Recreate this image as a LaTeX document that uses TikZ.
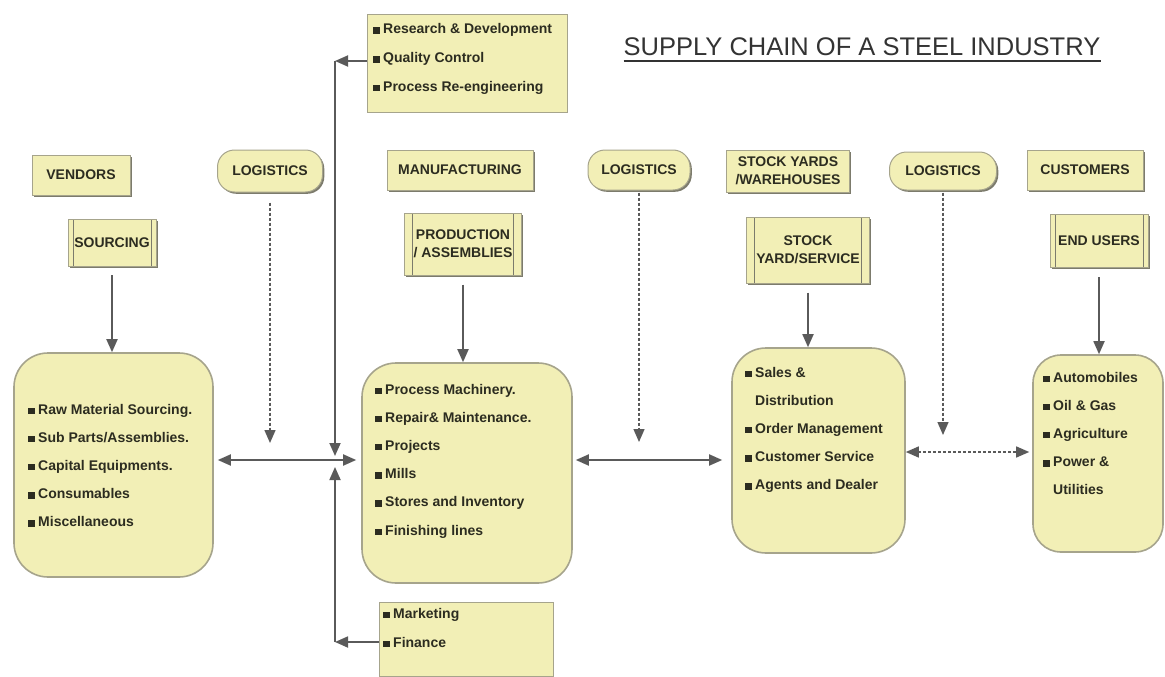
\documentclass[tikz,border=0pt]{standalone}
\usepackage{fontspec}
\setmainfont{Liberation Sans}
\usepackage{xcolor}
\usepackage{tikz}
\usetikzlibrary{arrows.meta, shadows}
\definecolor{BoxFill}  {HTML}{F2EFB6}
\definecolor{BoxLine}  {HTML}{A6A48C}
\definecolor{ShadowGry}{HTML}{7C7B6C}
\definecolor{ArrowGry} {HTML}{5A5A5A}
\definecolor{TextDk}   {HTML}{2C2C20}
\definecolor{TitleGry} {HTML}{333333}
\newcommand{\sqbul}{\rule{6.5pt}{6.5pt}\hspace{3.5pt}}
\newcommand{\sqind}{\hspace*{10pt}}

\begin{document}
\begin{tikzpicture}[
  x=1pt, y=-1pt,
  font=\fontsize{14}{18}\selectfont\bfseries,
  every node/.style={align=center, text=TextDk},
  lbl/.style    = {draw=BoxLine, fill=BoxFill, line width=1pt,
                   drop shadow={shadow xshift=1.8pt, shadow yshift=-1.8pt,
                                fill=ShadowGry, opacity=1}},
  logi/.style   = {lbl, rounded corners=17pt},
  procbox/.style= {lbl, path picture={
                     \draw[ShadowGry, line width=1pt]
                       ([xshift=#1]path picture bounding box.north west) --
                       ([xshift=#1]path picture bounding box.south west);
                     \draw[ShadowGry, line width=1pt]
                       ([xshift=-#1]path picture bounding box.north east) --
                       ([xshift=-#1]path picture bounding box.south east);}},
  procbox/.default=6pt,
  sheet/.style  = {draw=BoxLine, fill=BoxFill, line width=1pt,
                   drop shadow={shadow xshift=1pt, shadow yshift=-1pt,
                                fill=BoxLine, opacity=1}},
  bigbox/.style = {draw=BoxLine, fill=BoxFill, line width=1.6pt, rounded corners=34pt},
  item/.style   = {anchor=base west, inner sep=0pt, align=left},
  arr/.style    = {ArrowGry, line width=1.8pt, -{Triangle[length=13pt,width=11pt]}},
  arrs/.style   = {ArrowGry, line width=1.8pt,
                   {Triangle[length=13pt,width=11pt]}-{Triangle[length=13pt,width=11pt]}},
  dsh/.style    = {ArrowGry, line width=1.4pt, dash pattern=on 3pt off 2pt,
                   -{Triangle[length=13pt,width=11pt]}},
  dshs/.style   = {ArrowGry, line width=1.4pt, dash pattern=on 3pt off 2pt,
                   {Triangle[length=13pt,width=11pt]}-{Triangle[length=13pt,width=11pt]}},
]
\useasboundingbox (0,0) rectangle (1165,677);

% title
\node[font=\fontsize{25.5}{30}\selectfont\mdseries, text=TitleGry, inner sep=0pt,
      anchor=base] (title) at (862,56) {SUPPLY CHAIN OF A STEEL INDUSTRY};
\draw[TitleGry, line width=1.6pt]
      ([yshift=-4.5pt]title.south west) -- ([yshift=-4.5pt]title.south east);

% header row
\node[lbl,  minimum width=98pt,  minimum height=40pt] (vendors) at (81,175)   {VENDORS};
\node[logi, minimum width=105pt, minimum height=42pt] (log1)    at (270,171)  {LOGISTICS};
\node[lbl,  minimum width=146pt, minimum height=40pt] (mfg)     at (460,170)  {MANUFACTURING};
\node[logi, minimum width=102pt, minimum height=40pt] (log2)    at (639,170)  {LOGISTICS};
\node[lbl,  minimum width=123pt, minimum height=42pt] (yards)   at (788,171)  {STOCK YARDS\\/WAREHOUSES};
\node[logi, minimum width=107pt, minimum height=38pt] (log3)    at (943,171)  {LOGISTICS};
\node[lbl,  minimum width=116pt, minimum height=40pt] (cust)    at (1085,170) {CUSTOMERS};

% process row
\node[procbox=5pt, minimum width=88pt,  minimum height=47pt] (sourcing) at (112,243)  {SOURCING};
\node[procbox=8pt, minimum width=117pt, minimum height=62pt] (prod)     at (463,244)  {PRODUCTION\\/ ASSEMBLIES};
\node[procbox=8pt, minimum width=123pt, minimum height=66pt] (yardsvc)  at (808,250)  {STOCK\\YARD/SERVICE};
\node[procbox=5pt, minimum width=98pt,  minimum height=53pt] (endusr)   at (1099,241) {END USERS};

% support functions
\node[sheet, minimum width=200pt, minimum height=97pt] (rnd) at (467,63.5) {};
\foreach \t [count=\i] in {Research \& Development, Quality Control, Process Re-engineering}
  \node[item] (rnd\i) at (373,{34+28.7*(\i-1)}) {\sqbul\t};
\node[sheet, minimum width=174pt, minimum height=74pt] (mkt) at (466,639) {};
\foreach \t [count=\i] in {Marketing, Finance}
  \node[item] (mkt\i) at (383,{618+29*(\i-1)}) {\sqbul\t};

% main stages
\node[bigbox, minimum width=199pt, minimum height=224pt] (srcbox)  at (113.5,465) {};
\node[bigbox, minimum width=210pt, minimum height=220pt] (mfgbox)  at (467,473)   {};
\node[bigbox, minimum width=173pt, minimum height=205pt] (salebox) at (818.5,450.5) {};
\node[bigbox, minimum width=130pt, minimum height=197pt, rounded corners=28pt]
      (custbox) at (1098,453.5) {};

\foreach \t [count=\i] in {Raw Material Sourcing., Sub Parts/Assemblies.,
    Capital Equipments., Consumables, Miscellaneous}
  \node[item] (src\i) at (28,{414+28.2*(\i-1)}) {\sqbul\t};
\foreach \t [count=\i] in {Process Machinery., Repair\& Maintenance., Projects,
    Mills, Stores and Inventory, Finishing lines}
  \node[item] (mf\i) at (375,{394+28.2*(\i-1)}) {\sqbul\t};
\foreach \t [count=\i] in {\sqbul Sales \&, \sqind Distribution, \sqbul Order Management,
    \sqbul Customer Service, \sqbul Agents and Dealer}
  \node[item] (sl\i) at (745,{377+28.2*(\i-1)}) {\t};
\foreach \t [count=\i] in {\sqbul Automobiles, \sqbul Oil \& Gas, \sqbul Agriculture,
    \sqbul Power \&, \sqind Utilities}
  \node[item] (cu\i) at (1043,{382+28.2*(\i-1)}) {\t};

% flows
\draw[arr, shorten <=8pt] (sourcing.south) -- (sourcing.south |- srcbox.north);
\draw[arr, shorten <=9pt] (prod.south)     -- (prod.south |- mfgbox.north);
\draw[arr, shorten <=9pt] (yardsvc.south)  -- (yardsvc.south |- salebox.north);
\draw[arr, shorten <=9pt] (endusr.south)   -- (endusr.south |- custbox.north);

\coordinate (d1) at (270,443);
\coordinate (d2) at (642,442);
\coordinate (d3) at (943,435);
\draw[dsh, shorten <=10pt] (log1.south) -- (log1.south |- d1);
\draw[dsh, shorten <=2pt]  (log2.south) -- (log2.south |- d2);
\draw[dsh, shorten <=2pt]  (log3.south) -- (log3.south |- d3);

\coordinate (lane)  at (0,460);
\coordinate (lane2) at (0,452);
\draw[arrs, shorten <=4pt, shorten >=5pt] (srcbox.east |- lane)   -- (mfgbox.west |- lane);
\draw[arrs, shorten <=3pt, shorten >=9pt] (mfgbox.east |- lane)   -- (salebox.west |- lane);
\draw[dshs, shorten >=3pt]                (salebox.east |- lane2) -- (custbox.west |- lane2);

% support bus
\coordinate (bustop) at (335,61);
\coordinate (busin)  at (335,456);
\coordinate (busout) at (335,467);
\coordinate (busbot) at (335,642);
\draw[arr] (rnd.west |- bustop) -- (bustop);
\draw[arr] (bustop) -- (busin);
\draw[arr] (mkt.west |- busbot) -- (busbot);
\draw[arr] (busbot) -- (busout);
\end{tikzpicture}
\end{document}
